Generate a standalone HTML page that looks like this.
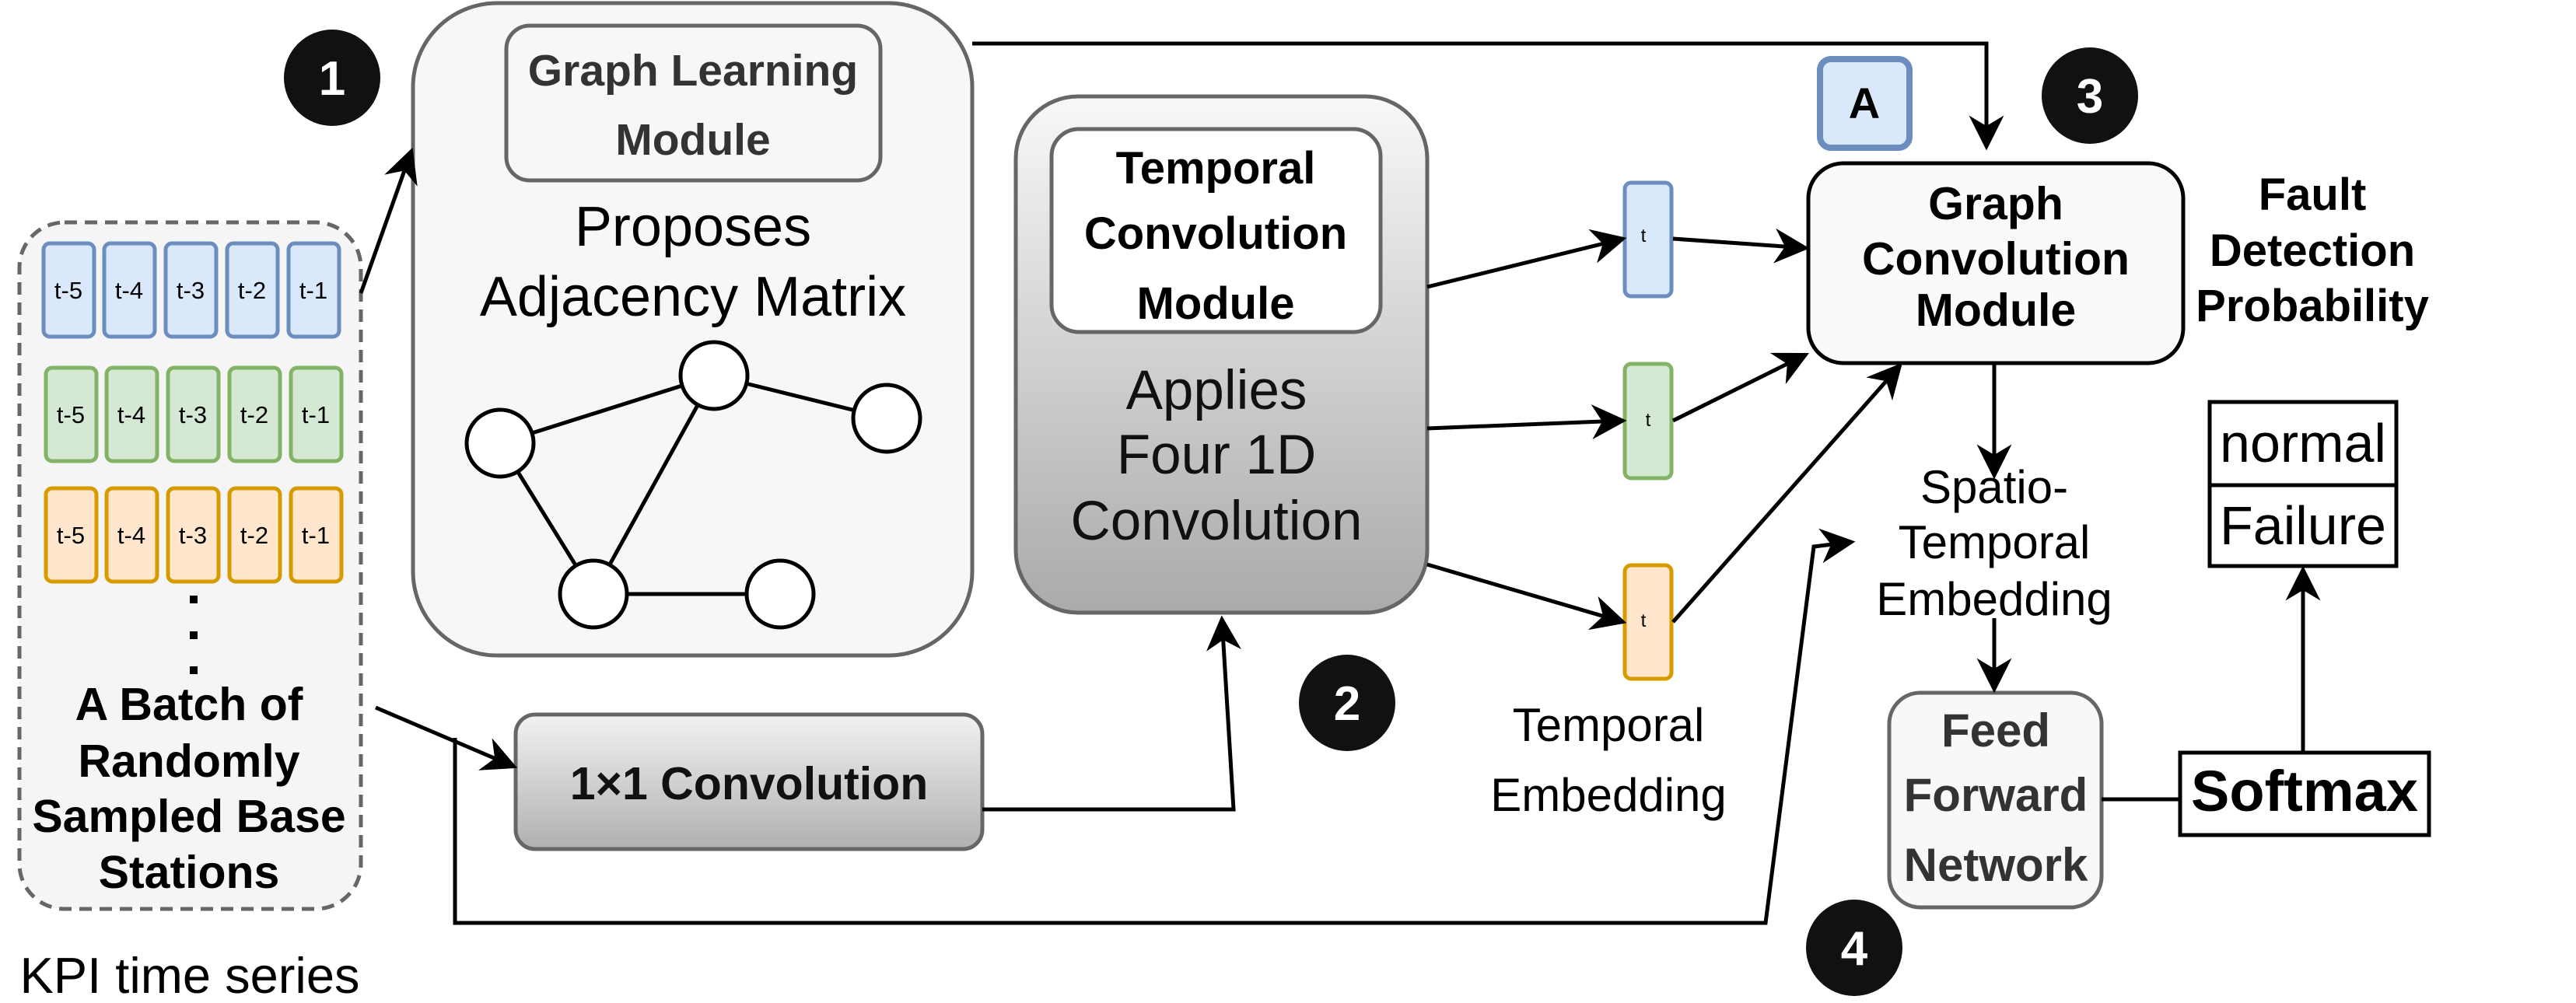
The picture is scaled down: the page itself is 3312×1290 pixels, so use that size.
<!DOCTYPE html>
<html><head><meta charset="utf-8"><style>html,body{margin:0;padding:0;background:#fff}svg{display:block}text{font-family:"Liberation Sans",Arial,sans-serif}</style></head>
<body>
<svg width="3312" height="1290" viewBox="0 0 3312 1290" xmlns="http://www.w3.org/2000/svg">
<defs>
<marker id="ar" viewBox="0 0 10 10" refX="9" refY="5" markerWidth="9" markerHeight="9" markerUnits="strokeWidth" orient="auto"><path d="M0,0 L10,5 L0,10 L3,5 z" fill="#000"/></marker>
<linearGradient id="g1" x1="0" y1="0" x2="0" y2="1"><stop offset="0" stop-color="#f8f8f8"/><stop offset="1" stop-color="#aaaaaa"/></linearGradient>
<linearGradient id="g2" x1="0" y1="0" x2="0" y2="1"><stop offset="0" stop-color="#f2f2f2"/><stop offset="1" stop-color="#b0b0b0"/></linearGradient>
</defs>

<rect x="25" y="286" width="439" height="883" rx="58" fill="#f5f5f5" stroke="#666" stroke-width="5" stroke-dasharray="16 10"/>
<g font-size="31" text-anchor="middle" fill="#000">
<g stroke="#6c8ebf" stroke-width="5" fill="#dae8fc">
<rect x="56" y="313" width="65" height="120" rx="8"/><rect x="134" y="313" width="65" height="120" rx="8"/><rect x="213" y="313" width="65" height="120" rx="8"/><rect x="292" y="313" width="65" height="120" rx="8"/><rect x="371" y="313" width="65" height="120" rx="8"/></g>
<g stroke="#82b366" stroke-width="5" fill="#d5e8d4">
<rect x="59" y="473" width="65" height="120" rx="8"/><rect x="137" y="473" width="65" height="120" rx="8"/><rect x="216" y="473" width="65" height="120" rx="8"/><rect x="295" y="473" width="65" height="120" rx="8"/><rect x="374" y="473" width="65" height="120" rx="8"/></g>
<g stroke="#d79b00" stroke-width="5" fill="#ffe6cc">
<rect x="59" y="628" width="65" height="120" rx="8"/><rect x="137" y="628" width="65" height="120" rx="8"/><rect x="216" y="628" width="65" height="120" rx="8"/><rect x="295" y="628" width="65" height="120" rx="8"/><rect x="374" y="628" width="65" height="120" rx="8"/></g>
<text x="88" y="384">t-5</text><text x="166" y="384">t-4</text><text x="245" y="384">t-3</text><text x="324" y="384">t-2</text><text x="403" y="384">t-1</text>
<text x="91" y="544">t-5</text><text x="169" y="544">t-4</text><text x="248" y="544">t-3</text><text x="327" y="544">t-2</text><text x="406" y="544">t-1</text>
<text x="91" y="699">t-5</text><text x="169" y="699">t-4</text><text x="248" y="699">t-3</text><text x="327" y="699">t-2</text><text x="406" y="699">t-1</text>
</g>
<rect x="244" y="766" width="10" height="10" fill="#000"/><rect x="244" y="812" width="10" height="10" fill="#000"/><rect x="244" y="857" width="10" height="10" fill="#000"/>
<g font-size="59" font-weight="bold" text-anchor="middle">
<text x="243" y="926">A Batch of</text><text x="243" y="999">Randomly</text><text x="243" y="1070">Sampled Base</text><text x="243" y="1142">Stations</text>
</g>
<text x="244" y="1277" font-size="65" text-anchor="middle">KPI time series</text>

<circle cx="427" cy="100" r="62" fill="#111"/><text x="427" y="122" font-size="62" font-weight="bold" fill="#fff" text-anchor="middle">1</text>

<rect x="531" y="4" width="719" height="839" rx="108" fill="#f7f7f7" stroke="#666" stroke-width="5"/>
<rect x="651" y="33" width="481" height="199" rx="30" fill="#f7f7f7" stroke="#666" stroke-width="5"/>
<g font-size="57" font-weight="bold" fill="#333" text-anchor="middle"><text x="891" y="110">Graph Learning</text><text x="891" y="199">Module</text></g>
<g font-size="72" text-anchor="middle"><text x="891" y="316">Proposes</text><text x="891" y="406">Adjacency Matrix</text></g>
<g stroke="#000" stroke-width="5" fill="#fff">
<line x1="643" y1="570" x2="918" y2="483"/><line x1="918" y1="483" x2="1140" y2="538"/><line x1="643" y1="570" x2="763" y2="764"/><line x1="918" y1="483" x2="763" y2="764"/><line x1="763" y1="764" x2="1003" y2="764"/>
<circle cx="643" cy="570" r="43"/><circle cx="918" cy="483" r="43"/><circle cx="1140" cy="538" r="43"/><circle cx="763" cy="764" r="43"/><circle cx="1003" cy="764" r="43"/>
</g>

<rect x="663" y="919" width="600" height="173" rx="25" fill="url(#g2)" stroke="#666" stroke-width="5"/>
<text x="963" y="1028" font-size="59" font-weight="bold" text-anchor="middle" fill="#111">1×1 Convolution</text>

<rect x="1306" y="124" width="529" height="664" rx="80" fill="url(#g1)" stroke="#666" stroke-width="5"/>
<rect x="1352" y="166" width="423" height="261" rx="35" fill="#fff" stroke="#666" stroke-width="5"/>
<g font-size="58" font-weight="bold" text-anchor="middle"><text x="1563" y="236">Temporal</text><text x="1563" y="320">Convolution</text><text x="1563" y="410">Module</text></g>
<g font-size="71" text-anchor="middle" fill="#111"><text x="1564" y="526">Applies</text><text x="1564" y="609">Four 1D</text><text x="1564" y="694">Convolution</text></g>
<circle cx="1732" cy="904" r="62" fill="#111"/><text x="1732" y="926" font-size="62" font-weight="bold" fill="#fff" text-anchor="middle">2</text>

<rect x="2089" y="235" width="60" height="146" rx="8" fill="#dae8fc" stroke="#6c8ebf" stroke-width="5"/>
<rect x="2089" y="468" width="60" height="147" rx="8" fill="#d5e8d4" stroke="#82b366" stroke-width="5"/>
<rect x="2089" y="727" width="60" height="146" rx="8" fill="#ffe6cc" stroke="#d79b00" stroke-width="5"/>
<g font-size="24" text-anchor="middle"><text x="2113" y="311">t</text><text x="2119" y="548">t</text><text x="2113" y="806">t</text></g>
<g font-size="60" text-anchor="middle"><text x="2068" y="953">Temporal</text><text x="2068" y="1043">Embedding</text></g>

<rect x="2340" y="76" width="115" height="114" rx="14" fill="#dae8fc" stroke="#6c8ebf" stroke-width="8"/>
<text x="2397" y="152" font-size="56" font-weight="bold" text-anchor="middle">A</text>
<circle cx="2687" cy="123" r="62" fill="#111"/><text x="2687" y="145" font-size="62" font-weight="bold" fill="#fff" text-anchor="middle">3</text>

<rect x="2325" y="210" width="482" height="257" rx="45" fill="#fafafa" stroke="#000" stroke-width="5"/>
<g font-size="59" font-weight="bold" text-anchor="middle"><text x="2566" y="282">Graph</text><text x="2566" y="353">Convolution</text><text x="2566" y="419">Module</text></g>
<g font-size="58" font-weight="bold" text-anchor="middle"><text x="2973" y="270">Fault</text><text x="2973" y="342">Detection</text><text x="2973" y="413">Probability</text></g>
<g font-size="60" text-anchor="middle"><text x="2564" y="647">Spatio-</text><text x="2564" y="718">Temporal</text><text x="2564" y="791">Embedding</text></g>

<rect x="2429" y="891" width="273" height="276" rx="40" fill="#f8f8f8" stroke="#666" stroke-width="5"/>
<g font-size="60" font-weight="bold" fill="#333" text-anchor="middle"><text x="2566" y="960">Feed</text><text x="2566" y="1043">Forward</text><text x="2566" y="1133">Network</text></g>
<rect x="2803" y="968" width="320" height="106" fill="#fff" stroke="#000" stroke-width="5"/>
<text x="2963" y="1043" font-size="74" font-weight="bold" text-anchor="middle">Softmax</text>
<rect x="2841" y="517" width="240" height="211" fill="#fff" stroke="#000" stroke-width="5"/>
<line x1="2841" y1="624" x2="3081" y2="624" stroke="#000" stroke-width="5"/>
<g font-size="70" text-anchor="middle"><text x="2961" y="594">normal</text><text x="2961" y="700">Failure</text></g>
<circle cx="2384" cy="1219" r="62" fill="#111"/><text x="2384" y="1241" font-size="62" font-weight="bold" fill="#fff" text-anchor="middle">4</text>

<g stroke="#000" stroke-width="5" fill="none">
<line x1="464" y1="377" x2="529" y2="194" marker-end="url(#ar)"/>
<line x1="483" y1="910" x2="661" y2="986" marker-end="url(#ar)"/>
<polyline points="585,949 585,1187 2270,1187 2332,703 2381,697" marker-end="url(#ar)"/>
<polyline points="1263,1041 1586,1041 1571,796" marker-end="url(#ar)"/>
<polyline points="1250,56 2554,56 2554,189" marker-end="url(#ar)"/>
<line x1="1835" y1="369" x2="2087" y2="307" marker-end="url(#ar)"/>
<line x1="1835" y1="551" x2="2087" y2="541" marker-end="url(#ar)"/>
<line x1="1835" y1="726" x2="2087" y2="800" marker-end="url(#ar)"/>
<line x1="2151" y1="307" x2="2322" y2="319" marker-end="url(#ar)"/>
<line x1="2151" y1="541" x2="2322" y2="456" marker-end="url(#ar)"/>
<line x1="2151" y1="800" x2="2443" y2="470" marker-end="url(#ar)"/>
<line x1="2564" y1="468" x2="2564" y2="612" marker-end="url(#ar)"/>
<line x1="2564" y1="795" x2="2564" y2="887" marker-end="url(#ar)"/>
<line x1="2702" y1="1028" x2="2803" y2="1028"/>
<line x1="2961" y1="968" x2="2961" y2="732" marker-end="url(#ar)"/>
</g>
</svg>
</body></html>
